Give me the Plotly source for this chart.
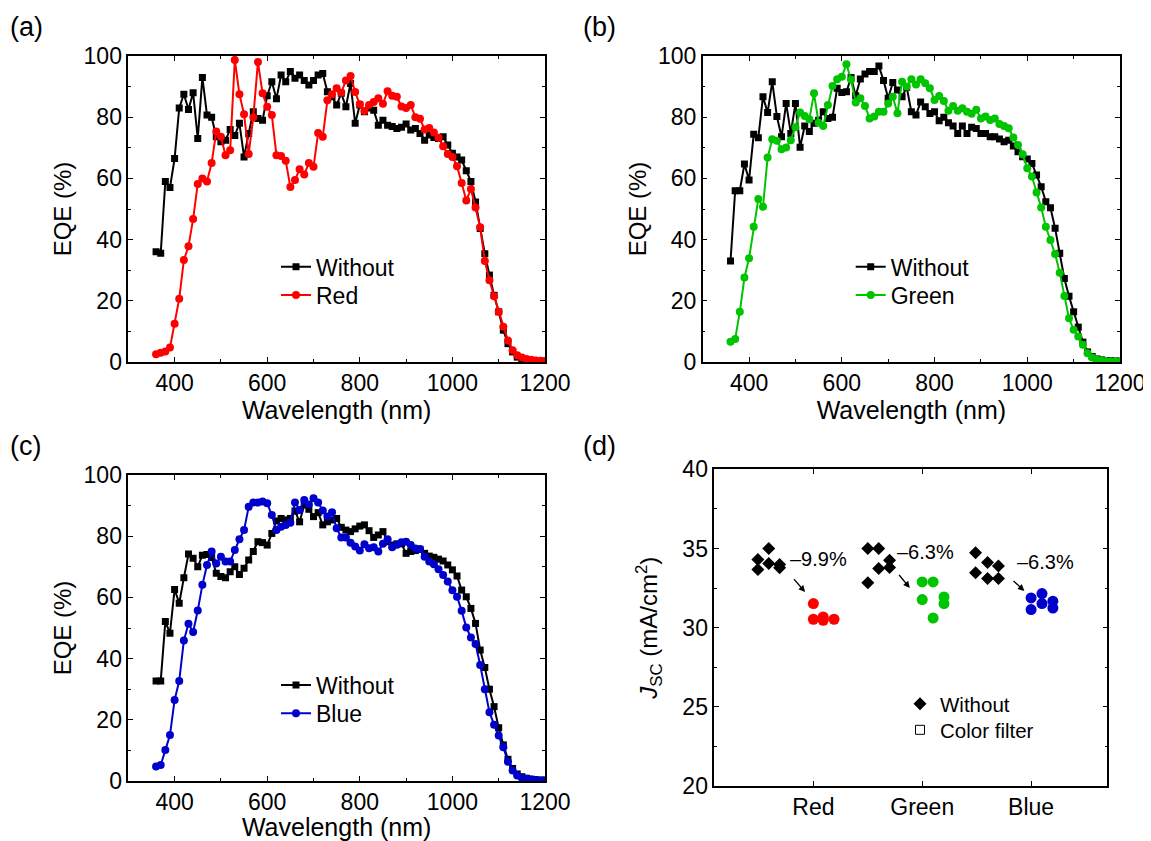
import plotly.graph_objects as go

# ---------------- data ----------------
wavelength = [360, 370, 380, 390, 400, 410, 420, 430, 440, 450,
              460, 470, 480, 490, 500, 510, 520, 530, 540, 550,
              560, 570, 580, 590, 600, 610, 620, 630, 640, 650,
              660, 670, 680, 690, 700, 710, 720, 730, 740, 750,
              760, 770, 780, 790, 800, 810, 820, 830, 840, 850,
              860, 870, 880, 890, 900, 910, 920, 930, 940, 950,
              960, 970, 980, 990, 1000, 1010, 1020, 1030, 1040, 1050,
              1060, 1070, 1080, 1090, 1100, 1110, 1120, 1130, 1140, 1150,
              1160, 1170, 1180, 1190, 1200]

a_without = [36, 35.5, 59, 57, 66.5, 83, 87.5, 82.5, 88, 73,
             93, 80.7, 80, 73.6, 72, 72.5, 76, 74, 78, 67,
             74.7, 81.8, 79.6, 79, 87, 91.6, 86, 93.8, 91.6, 94.9,
             92.7, 93.8, 92, 90.5, 92, 93.8, 94.3, 88.3, 86.7, 84,
             87.8, 83.4, 91, 78, 84, 81.8, 83, 82.3, 77.4, 79,
             77.4, 77, 76.3, 76.7, 77.8, 75.8, 76.3, 74.7, 72.5, 74.2,
             73.4, 73, 73.6, 70.9, 68.2, 67, 66, 62.5, 59, 52.3,
             43.6, 35.4, 28.4, 21.8, 16.4, 10.4, 6, 3.3, 1.6, 0.8,
             0.5, 0.3, 0.2, 0.2, 0.2]

a_red = [2.5, 3.0, 3.4, 4.7, 12.5, 20.7, 33.3, 37.8, 46.7, 58.2,
         60.0, 59.0, 65.0, 75.3, 73.6, 67.6, 69.2, 98.7, 87.5, 81.0,
         68.0, 80.0, 98.0, 87.8, 83.4, 80.7, 67.6, 67.3, 65.8, 57.2,
         59.5, 63.0, 61.3, 65.0, 63.8, 74.8, 73.6, 85.5, 87.5, 89.5,
         88.0, 92.0, 93.5, 88.2, 84.2, 82.0, 84.0, 85.0, 86.2, 84.4,
         88.5, 87.0, 86.7, 83.5, 83.0, 84.0, 80.0, 79.5, 76.0, 76.5,
         75.0, 73.3, 70.5, 68.0, 67.0, 64.0, 58.5, 52.8, 56.5, 50.5,
         44.0, 33.0, 26.7, 21.5, 16.4, 11.5, 7.0, 3.8, 2.2, 1.5,
         1.0, 0.7, 0.5, 0.4, 0.3]

b_without = [33, 56, 56, 64.7, 59.5, 74.4, 73.3, 86.7, 81.5, 91.6,
             80.2, 73.6, 84.5, 74.7, 84.5, 70.2, 77.1, 75.3, 78, 79,
             81.8, 79.6, 80, 89.5, 88.1, 88.3, 93, 87, 92.5, 94.1,
             94.9, 94.9, 96.7, 92, 86.2, 91.3, 88.9, 86.7, 89.8, 81.8,
             80.7, 85, 83.4, 81.2, 81.8, 78.8, 80, 78.2, 77.1, 74.7,
             77.1, 74.7, 76.7, 76.3, 74.7, 74.7, 73.6, 73.6, 72.9, 72,
             72.5, 70.6, 68.7, 67.1, 66.3, 64.9, 61.1, 57.3, 52.4, 50.4,
             43.7, 35.5, 27.3, 21.5, 16.4, 11.4, 6.5, 3.3, 1.8, 1.0,
             0.7, 0.5, 0.4, 0.3, 0.3]

b_green = [6.6, 7.5, 16.4, 27.6, 33.9, 44.2, 53.3, 50.7, 66.8, 72.8,
           72.3, 69.5, 70.1, 72.5, 76.7, 81.5, 80.4, 79.3, 87.8, 78.2,
           77.1, 84.0, 90.2, 92.4, 93.2, 97.3, 92.2, 84.8, 86.2, 83.7,
           79.6, 80.2, 81.8, 81.8, 84.5, 86.7, 81.3, 91.6, 90.0, 92.4,
           90.7, 92.4, 91.1, 89.5, 85.6, 86.9, 85.3, 82.1, 83.7, 82.1,
           82.9, 81.8, 81.1, 82.4, 79.6, 80.2, 79.1, 79.6, 77.8, 77.1,
           76.4, 73.4, 70.9, 67.9, 63.3, 60.6, 55.4, 50.5, 44.2, 39.9,
           35.3, 29.2, 21.6, 14.3, 10.5, 8.3, 5.6, 2.9, 1.5, 0.8,
           0.5, 0.3, 0.2, 0.2, 0.1]

c_without = [32.7, 32.7, 52.1, 48.3, 62.6, 58.1, 66.4, 74.2, 72.8, 70.0,
             73.8, 74.0, 73.0, 67.9, 66.8, 66.4, 68.4, 70.0, 67.5, 69.5,
             72.2, 75.0, 78.2, 77.9, 77.1, 80.9, 85.0, 85.8, 85.3, 85.8,
             88.2, 84.7, 90.2, 88.8, 86.4, 87.7, 83.7, 84.7, 85.3, 85.8,
             82.9, 82.0, 81.5, 82.4, 83.3, 83.7, 81.8, 79.6, 80.4, 81.5,
             78.2, 77.1, 77.5, 77.5, 74.4, 75.0, 75.3, 75.7, 74.4, 73.5,
             73.1, 72.5, 71.9, 70.6, 69.0, 67.0, 62.4, 60.2, 56.4, 51.5,
             42.8, 37.1, 30.0, 24.3, 17.4, 11.8, 7.1, 4.1, 2.3, 1.4,
             0.9, 0.6, 0.4, 0.3, 0.3]

c_blue = [4.7, 5.2, 10.1, 15.0, 26.5, 32.7, 45.9, 51.4, 48.7, 55.7,
          64.1, 70.6, 75.0, 71.1, 73.3, 71.7, 71.7, 75.5, 79.0, 82.0,
          89.6, 91.0, 91.0, 91.3, 90.8, 86.9, 82.0, 83.1, 83.7, 84.4,
          91.0, 88.6, 91.8, 90.4, 92.4, 91.0, 88.4, 86.4, 87.8, 82.6,
          79.6, 79.6, 77.9, 76.6, 75.3, 77.4, 76.1, 76.4, 75.0, 77.5,
          79.0, 76.4, 77.2, 78.0, 78.2, 77.1, 76.0, 75.8, 73.3, 71.7,
          70.8, 69.2, 67.3, 65.2, 62.3, 60.2, 55.6, 50.2, 46.9, 44.8,
          37.9, 30.0, 22.5, 18.4, 14.9, 11.0, 6.3, 3.4, 1.8, 1.1,
          0.7, 0.5, 0.3, 0.2, 0.2]

# panel (d): Jsc values (x = category position + small offset)
cat_names = ["Red", "Green", "Blue"]
cat_pos = [1, 2, 3]
jsc_without_x = [0.49, 0.49, 0.59, 0.59, 0.69, 0.69,
                 1.50, 1.60, 1.70, 1.60, 1.70, 1.50,
                 2.49, 2.60, 2.70, 2.49, 2.60, 2.70]
jsc_without_y = [34.30, 33.67, 35.00, 34.05, 33.99, 33.78,
                 35.00, 35.00, 34.26, 33.73, 33.80, 32.83,
                 34.73, 34.11, 33.90, 33.46, 33.10, 33.10]
jsc_red_x = [1.00, 1.00, 1.09, 1.09, 1.19, 1.09]
jsc_red_y = [31.52, 30.53, 30.68, 30.46, 30.53, 30.57]
jsc_green_x = [2.00, 2.10, 2.00, 2.20, 2.20, 2.10]
jsc_green_y = [32.89, 32.89, 31.77, 31.94, 31.52, 30.61]
jsc_blue_x = [3.00, 3.10, 3.10, 3.20, 3.00, 3.20]
jsc_blue_y = [31.88, 32.15, 31.52, 31.67, 31.14, 31.24]
change_labels = ["\u20139.9%", "\u20136.3%", "\u20136.3%"]
change_label_x = [1.05, 2.03, 3.13]
change_label_y = [34.33, 34.75, 34.12]
arrow_tail_x = [0.81, 1.776, 2.825]
arrow_tail_y = [33.16, 33.42, 33.04]
arrow_head_x = [0.924, 1.886, 2.938]
arrow_head_y = [32.25, 32.51, 32.32]

# ---------------- style ----------------
FONT = "Liberation Sans, Arial, sans-serif"
OFF = 8                 # page body margin of the browser
FW, FH = 1151 - OFF, 841 - OFF
BLACK = "#000000"
RED = "#ff0000"
GREEN = "#00c400"
BLUE = "#0000cc"


def fx(x):
    return (x - OFF) / FW


def fy(y):
    return 1 - (y - OFF) / FH


def px(x0, x1):
    return [fx(x0), fx(x1)]


def py(top, bottom):
    return [fy(bottom), fy(top)]


fig = go.Figure()


def eqe_pair(y_without, y_col, col, name, xa, ya, leg1, leg2):
    fig.add_trace(go.Scatter(
        x=wavelength, y=y_without, mode="lines+markers", name="Without",
        line=dict(color=BLACK, width=2),
        marker=dict(symbol="square", size=7, color=BLACK),
        xaxis=xa, yaxis=ya, legend=leg1))
    fig.add_trace(go.Scatter(
        x=wavelength, y=y_col, mode="lines+markers", name=name,
        line=dict(color=col, width=2),
        marker=dict(symbol="circle", size=8, color=col),
        xaxis=xa, yaxis=ya, legend=leg2))


eqe_pair(a_without, a_red, RED, "Red", "x", "y", "legend", "legend2")
eqe_pair(b_without, b_green, GREEN, "Green", "x2", "y2", "legend3", "legend4")
eqe_pair(c_without, c_blue, BLUE, "Blue", "x3", "y3", "legend5", "legend6")

# panel (d)
fig.add_trace(go.Scatter(
    x=jsc_without_x, y=jsc_without_y, mode="markers", name="Without",
    marker=dict(symbol="diamond", size=10, color=BLACK),
    xaxis="x4", yaxis="y4", legend="legend7"))
for xs, ys, col in [(jsc_red_x, jsc_red_y, RED),
                    (jsc_green_x, jsc_green_y, GREEN),
                    (jsc_blue_x, jsc_blue_y, BLUE)]:
    fig.add_trace(go.Scatter(
        x=xs, y=ys, mode="markers", showlegend=False,
        marker=dict(symbol="circle", size=11, color=col),
        xaxis="x4", yaxis="y4"))
fig.add_trace(go.Scatter(
    x=[None], y=[None], mode="markers", name="Color filter",
    marker=dict(symbol="square-open", size=9, color=BLACK,
                line=dict(color=BLACK, width=1)),
    xaxis="x4", yaxis="y4", legend="legend8"))

axis_common = dict(
    automargin=False,
    showline=True, linecolor=BLACK, linewidth=1.5, mirror="allticks",
    ticks="inside", ticklen=5, tickwidth=1.3, tickcolor=BLACK,
    showgrid=False, zeroline=False,
    tickfont=dict(family=FONT, size=23, color=BLACK),
)


def wl_xaxis(dom, anchor):
    return dict(axis_common, domain=dom, anchor=anchor, range=[300, 1200],
                tick0=0, dtick=200,
                minor=dict(dtick=100, ticks="inside", ticklen=3,
                           tickwidth=1.3, tickcolor=BLACK),
                title=dict(text="Wavelength (nm)",
                           font=dict(family=FONT, size=25, color=BLACK),
                           standoff=1))


def eqe_yaxis(dom, anchor):
    return dict(axis_common, domain=dom, anchor=anchor, range=[0, 100],
                tick0=0, dtick=20,
                minor=dict(dtick=10, ticks="inside", ticklen=3,
                           tickwidth=1.3, tickcolor=BLACK),
                title=dict(text="EQE (%)",
                           font=dict(family=FONT, size=24, color=BLACK),
                           standoff=5))


xa_dom = px(128.3, 545)
xb_dom = px(702.7, 1120)
ytop_dom = py(56, 362)
ybot_dom = py(475, 781)

legend_common = dict(xanchor="left", yanchor="middle",
                     bgcolor="rgba(0,0,0,0)",
                     font=dict(family=FONT, size=23, color=BLACK),
                     tracegroupgap=0, itemwidth=30)
legend_d = dict(legend_common, font=dict(family=FONT, size=20.5, color=BLACK))

fig.update_layout(
    template="none",
    width=FW, height=FH,
    margin=dict(l=0, r=0, t=0, b=0, autoexpand=False),
    paper_bgcolor="white", plot_bgcolor="white",
    font=dict(family=FONT, size=22, color=BLACK),
    xaxis=wl_xaxis(xa_dom, "y"),
    yaxis=eqe_yaxis(ytop_dom, "x"),
    xaxis2=wl_xaxis(xb_dom, "y2"),
    yaxis2=eqe_yaxis(ytop_dom, "x2"),
    xaxis3=wl_xaxis(xa_dom, "y3"),
    yaxis3=eqe_yaxis(ybot_dom, "x3"),
    xaxis4=dict(axis_common, domain=px(714.3, 1107.3), anchor="y4",
                range=[0.09, 3.7], tickmode="array", tickvals=cat_pos,
                ticktext=cat_names),
    yaxis4=dict(axis_common, domain=py(469.3, 786), anchor="x4",
                range=[20, 40], tick0=20, dtick=5,
                minor=dict(dtick=2.5, ticks="inside", ticklen=3,
                           tickwidth=1.3, tickcolor=BLACK),
                title=dict(text="<i>J</i><sub>SC</sub> (mA/cm<sup>2</sup>)",
                           font=dict(family=FONT, size=24, color=BLACK),
                           standoff=18)),
    legend=dict(legend_common, x=fx(276), y=fy(266.7)),
    legend2=dict(legend_common, x=fx(276), y=fy(295)),
    legend3=dict(legend_common, x=fx(850.7), y=fy(266.7)),
    legend4=dict(legend_common, x=fx(850.7), y=fy(295)),
    legend5=dict(legend_common, x=fx(276), y=fy(685)),
    legend6=dict(legend_common, x=fx(276), y=fy(713.3)),
    legend7=dict(legend_d, x=fx(900), y=fy(704)),
    legend8=dict(legend_d, x=fx(900), y=fy(730)),
)

annotations = []
for txt, x, y in [("(a)", 8, 27), ("(b)", 581, 27), ("(c)", 8, 446), ("(d)", 581, 446)]:
    annotations.append(dict(text=txt, x=fx(x), y=fy(y), xref="paper", yref="paper",
                            xanchor="left", yanchor="middle", showarrow=False,
                            font=dict(family=FONT, size=27, color=BLACK)))
for txt, x, y in zip(change_labels, change_label_x, change_label_y):
    annotations.append(dict(text=txt, x=x, y=y, xref="x4", yref="y4",
                            showarrow=False,
                            font=dict(family=FONT, size=20, color=BLACK)))
for tx, ty, hx, hy in zip(arrow_tail_x, arrow_tail_y, arrow_head_x, arrow_head_y):
    annotations.append(dict(text="", x=hx, y=hy, ax=tx, ay=ty, xref="x4", yref="y4",
                            axref="x4", ayref="y4", showarrow=True, arrowhead=2,
                            arrowsize=1, arrowwidth=1.3, arrowcolor=BLACK))
fig.update_layout(annotations=annotations)

fig.write_html("out.html")
